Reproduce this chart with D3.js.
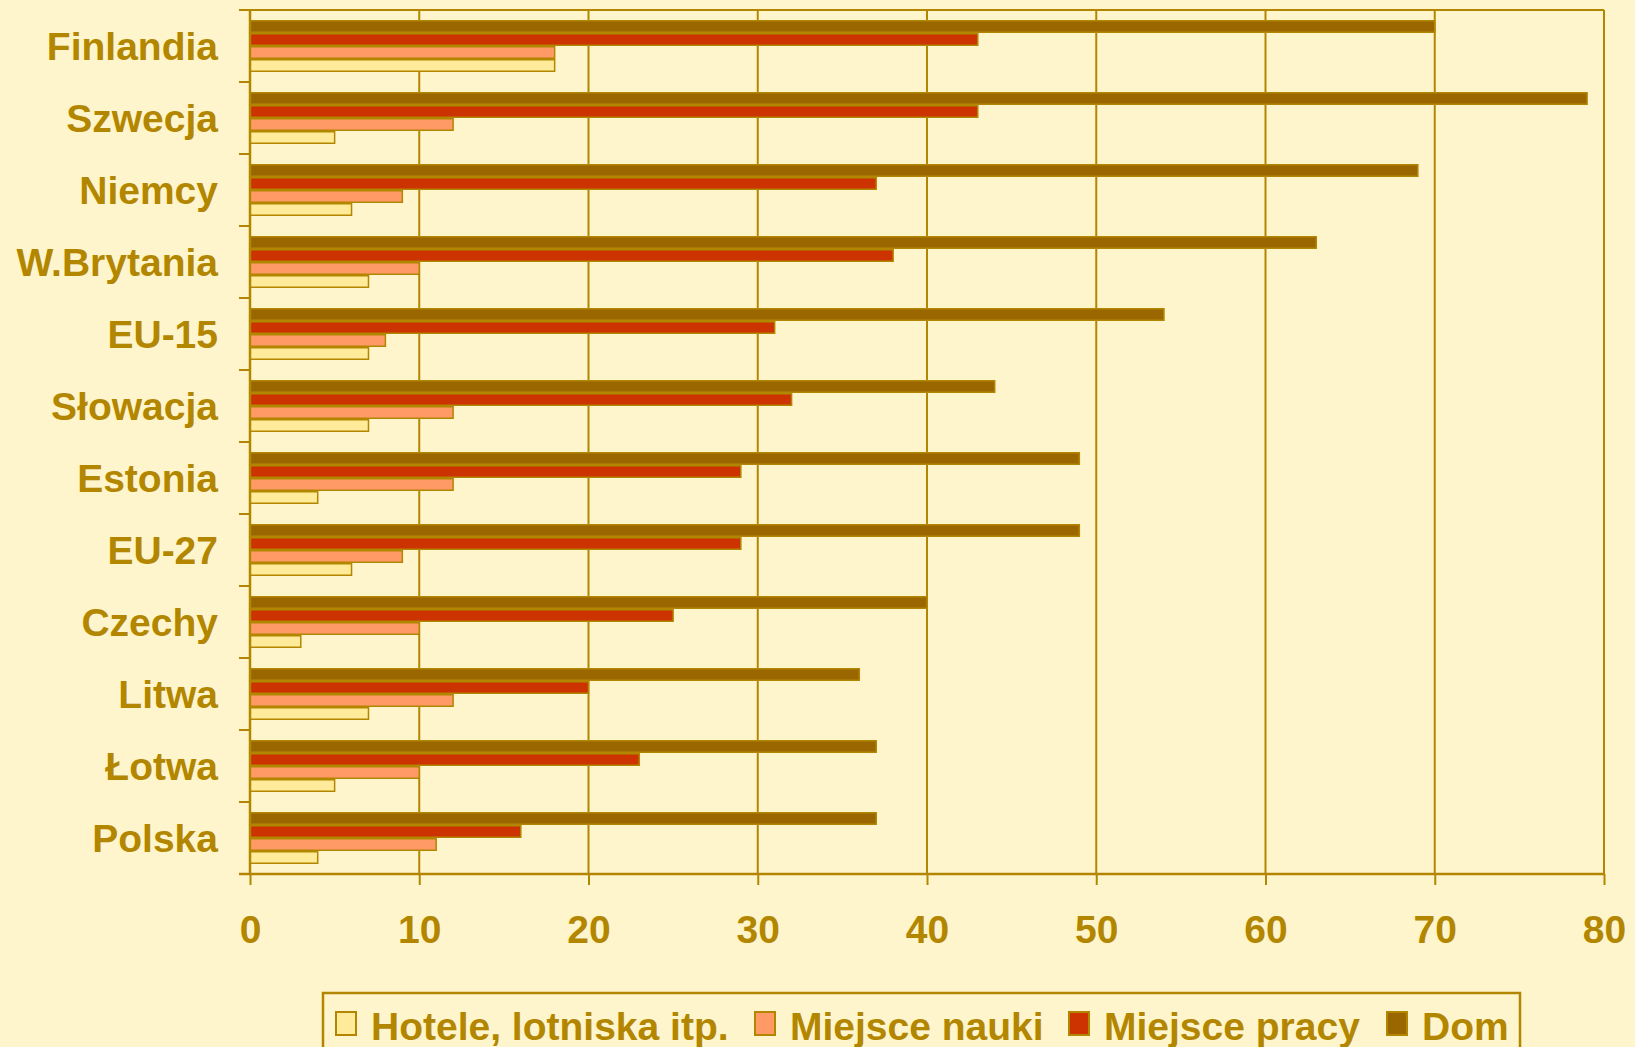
<!DOCTYPE html>
<html><head><meta charset="utf-8">
<script src="https://cdn.jsdelivr.net/npm/d3@7"></script>
<style>
html,body{margin:0;padding:0;background:#FFF5CC;}
svg{display:block;}
text{font-family:"Liberation Sans",Arial,sans-serif;font-weight:bold;fill:#B38600;}
</style></head><body>
<svg id="c" width="1635" height="1047"></svg>
<script>
const categories = ["Finlandia","Szwecja","Niemcy","W.Brytania","EU-15","Słowacja","Estonia","EU-27","Czechy","Litwa","Łotwa","Polska"];
const seriesNames = ["Hotele, lotniska itp.","Miejsce nauki","Miejsce pracy","Dom"];
const hotele = [18,5,6,7,7,7,4,6,3,7,5,4];
const nauki  = [18,12,9,10,8,12,12,9,10,12,10,11];
const pracy  = [43,43,37,38,31,32,29,29,25,20,23,16];
const dom    = [70,79,69,63,54,44,49,49,40,36,37,37];
const xTicks = [0,10,20,30,40,50,60,70,80];
const colors = ["#FFEB99","#FF9966","#CC3300","#996600"];

const values = [hotele, nauki, pracy, dom];
const ink = "#B38600";
const svg = d3.select("#c");
svg.append("rect").attr("width",1635).attr("height",1047).attr("fill","#FFF5CC");

const L = 250, R = 1604, T = 10, B = 874;
const x = d3.scaleLinear().domain([0,80]).range([L,R]);
const y = d3.scaleBand().domain(categories).range([T,B]).padding(0);
// draw order top to bottom inside band: Dom, pracy, nauki, hotele
const inner = d3.scaleBand().domain([3,2,1,0]).range([10, y.bandwidth()-10]);

// grid lines
svg.append("g").selectAll("line").data(xTicks).join("line")
  .attr("x1",d=>x(d)).attr("x2",d=>x(d)).attr("y1",T).attr("y2",B)
  .attr("stroke",ink).attr("stroke-width",2);
// top border
svg.append("line").attr("x1",L).attr("x2",R).attr("y1",T).attr("y2",T).attr("stroke",ink).attr("stroke-width",2);

// bars
categories.forEach((c,i)=>{
  [3,2,1,0].forEach(s=>{
    svg.append("rect")
      .attr("x", x(0))
      .attr("y", y(c)+inner(s)+0.75)
      .attr("width", x(values[s][i])-x(0))
      .attr("height", inner.bandwidth()-1.5)
      .attr("fill", colors[s])
      .attr("stroke", ink).attr("stroke-width",1.5);
  });
});

// bottom axis
const xAxis = d3.axisBottom(x).tickValues(xTicks).tickSize(11).tickSizeOuter(0).tickPadding(30);
const gx = svg.append("g").attr("transform",`translate(0,${B})`).call(xAxis);
gx.select(".domain").attr("stroke",ink).attr("stroke-width",2.5).attr("d",`M${L-11},0H${R}`);
gx.selectAll(".tick line").attr("stroke",ink).attr("stroke-width",2);
gx.selectAll(".tick text").attr("font-size",39).attr("fill",ink)
  .style("font-family","'Liberation Sans',Arial,sans-serif").style("font-weight","bold");

// left axis line
svg.append("line").attr("x1",L).attr("x2",L).attr("y1",T).attr("y2",B).attr("stroke",ink).attr("stroke-width",2.5);
const bounds = categories.map(c=>y(c)).concat([B]);
svg.append("g").selectAll("line").data(bounds).join("line")
  .attr("x1",L-11).attr("x2",L).attr("y1",d=>d).attr("y2",d=>d)
  .attr("stroke",ink).attr("stroke-width",2);

// category labels
svg.append("g").selectAll("text").data(categories).join("text")
  .attr("x",218).attr("y",c=>y(c)+y.bandwidth()/2)
  .attr("text-anchor","end").attr("dominant-baseline","central")
  .attr("font-size",39).text(c=>c);

// legend
svg.append("rect").attr("x",323).attr("y",993).attr("width",1197).attr("height",70)
  .attr("fill","#FFF5CC").attr("stroke",ink).attr("stroke-width",2.5);
const legX = [336,755,1069,1387];
seriesNames.forEach((n,i)=>{
  svg.append("rect").attr("x",legX[i]).attr("y",1012).attr("width",20).attr("height",23)
    .attr("fill",colors[i]).attr("stroke",ink).attr("stroke-width",2);
  svg.append("text").attr("x",legX[i]+35).attr("y",1040).attr("font-size",39).text(n);
});
</script>
</body></html>
